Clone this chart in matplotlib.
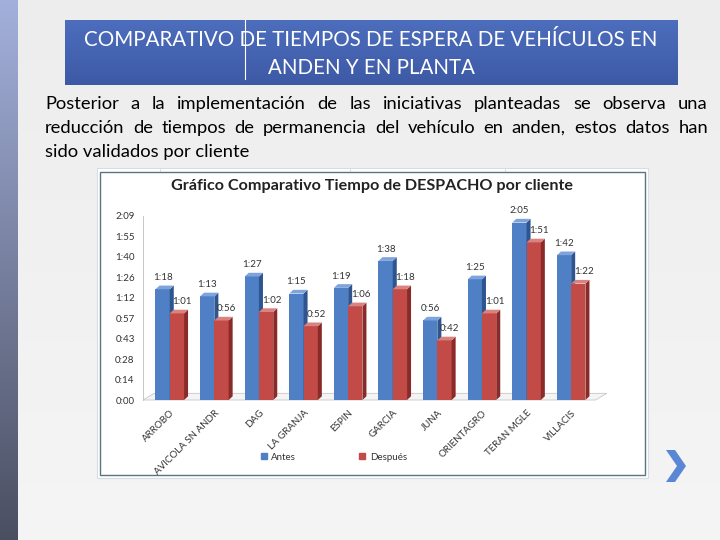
"""Slide: comparativo de tiempos de espera de vehículos (antes / después)."""

import matplotlib.pyplot as plt
import numpy as np
from matplotlib.patches import Polygon, Rectangle
from matplotlib.ticker import FixedLocator, FuncFormatter

plt.rcParams["font.family"] = ["Lato", "DejaVu Sans"]

CLIENTES = ["ARROBO", "AVICOLA SN ANDR", "DAG", "LA GRANJA", "ESPIN",
            "GARCIA", "JUNA", "ORIENTAGRO", "TERAN MGLE", "VILLACIS"]
# tiempos en segundos (mostrados como m:ss)
ANTES = [78, 73, 87, 75, 79, 98, 56, 85, 125, 102]
DESPUES = [61, 56, 62, 52, 66, 78, 42, 61, 111, 82]
Y_TICKS = [0, 14.4, 28.8, 43.2, 57.6, 72, 86.4, 100.8, 115.2, 129.6]

TITULO = "COMPARATIVO DE TIEMPOS DE ESPERA DE VEHÍCULOS EN\nANDEN Y EN PLANTA"
PARRAFO = [
    "Posterior a la implementación de las iniciativas planteadas se observa una",
    "reducción de tiempos de permanencia del vehículo en anden, estos datos han",
    "sido validados por cliente",
]

AZUL, AZUL_OSC, AZUL_TOP = "#4f7fc4", "#2e5590", "#7fa3dc"
ROJO, ROJO_OSC, ROJO_TOP = "#c24a47", "#8a2b29", "#d98381"

W, H = 720, 540
fig = plt.figure(figsize=(7.2, 5.4), dpi=100)

# ---- slide background (pixel coordinates) ----
bg = fig.add_axes([0, 0, 1, 1])
bg.set_xlim(0, W)
bg.set_ylim(H, 0)
bg.axis("off")
grad = np.linspace(0, 1, 256).reshape(-1, 1)
bg.imshow(np.dstack([0.93 + 0.03 * grad] * 3), extent=[0, W, H, 0], aspect="auto", zorder=0)
# left band
band = np.zeros((256, 1, 3))
band[:, 0, 0] = np.linspace(0.64, 0.29, 256)
band[:, 0, 1] = np.linspace(0.69, 0.31, 256)
band[:, 0, 2] = np.linspace(0.86, 0.38, 256)
bg.imshow(band, extent=[0, 18, H, 0], aspect="auto", zorder=1)

# title box
box = np.zeros((64, 1, 3))
box[:, 0, 0] = np.linspace(0.30, 0.24, 64)
box[:, 0, 1] = np.linspace(0.43, 0.35, 64)
box[:, 0, 2] = np.linspace(0.74, 0.65, 64)
bg.imshow(box, extent=[65, 678, 85, 20], aspect="auto", zorder=2)
bg.plot([245, 245], [20, 79], color="white", lw=0.8, zorder=3)
bg.text(371, 54, TITULO, color="white", fontsize=14.8, ha="center", va="center",
        linespacing=1.45, zorder=4)

# justified paragraph
fig.canvas.draw()
renderer = fig.canvas.get_renderer()
left, right = 45, 708
FS_PAR = 13.2
for i, linea in enumerate(PARRAFO):
    y = 104 + i * 24
    palabras = linea.split()
    if i == len(PARRAFO) - 1:
        bg.text(left, y, linea, fontsize=FS_PAR, va="center", ha="left")
        continue
    anchos = []
    for p in palabras:
        t = bg.text(0, 0, p, fontsize=FS_PAR)
        anchos.append(t.get_window_extent(renderer).width)
        t.remove()
    hueco = (right - left - sum(anchos)) / (len(palabras) - 1)
    x = left
    for p, a in zip(palabras, anchos):
        bg.text(x, y, p, fontsize=FS_PAR, va="center", ha="left")
        x += a + hueco

# chart picture frame (pasted Excel chart)
bg.add_patch(Rectangle((97, 168), 551, 310, facecolor="white", edgecolor="#d6dde4", lw=0.8, zorder=2))
for gx in [160, 350, 505]:
    bg.plot([gx, gx], [168, 172], color="#d6dde4", lw=0.6, zorder=3)
bg.add_patch(Rectangle((100, 172), 545, 303, facecolor="white", edgecolor="#5b7580", lw=1.0, zorder=3))
bg.text(372, 186, "Gráfico Comparativo Tiempo de DESPACHO por cliente", fontsize=11.6,
        fontweight="bold", ha="center", va="center", color="#222222", zorder=4)

# chevron
bg.add_patch(Polygon([[666, 450], [675, 450], [686, 466], [675, 482], [666, 482], [677, 466]],
                     closed=True, facecolor="#5b86d4", edgecolor="none", zorder=4))

# ---- chart axes ----
x = np.arange(len(CLIENTES))
bw = 0.32
dx, dy = 0.09, 2.6
x0, x1 = -0.6, 9.85
ax = fig.add_axes([143 / W, 1 - 400 / H, (x1 - x0) * 44.6 / W, 184 / H])
ax.set_xlim(x0, x1)
ax.set_ylim(0, 129.6)
ax.set_zorder(5)
ax.patch.set_alpha(0)
for s in ["top", "right", "bottom"]:
    ax.spines[s].set_visible(False)
ax.spines["left"].set_color("#bfbfbf")
ax.spines["left"].set_linewidth(0.6)

# floor
ax.add_patch(Polygon([[x0, 0], [x1 - 0.3, 0], [x1 - 0.05, dy * 1.8], [x0 + 0.25, dy * 1.8]],
                     closed=True, facecolor="#f4f4f4", edgecolor="#c8c8c8", lw=0.6, zorder=1,
                     clip_on=False))


def barras_3d(xs, vals, cara, lado, tapa):
    ax.bar(xs, vals, width=bw, align="edge", color=cara, zorder=3)
    for xi, v in zip(xs, vals):
        ax.add_patch(Polygon([[xi + bw, 0], [xi + bw + dx, dy], [xi + bw + dx, v + dy], [xi + bw, v]],
                             closed=True, facecolor=lado, edgecolor="none", zorder=3))
        ax.add_patch(Polygon([[xi, v], [xi + bw, v], [xi + bw + dx, v + dy], [xi + dx, v + dy]],
                             closed=True, facecolor=tapa, edgecolor="none", zorder=3))


barras_3d(x - bw, ANTES, AZUL, AZUL_OSC, AZUL_TOP)
barras_3d(x, DESPUES, ROJO, ROJO_OSC, ROJO_TOP)


def mmss(v, _pos=None):
    s = int(v)
    return f"{s // 60}:{s % 60:02d}"


for xi, v in zip(x - bw, ANTES):
    ax.text(xi + bw / 2, v + dy + 2.5, mmss(v), fontsize=7, ha="center", va="bottom",
            color="#333333", zorder=6)
for xi, v in zip(x, DESPUES):
    ax.text(xi + bw / 2 + 0.12, v + dy + 2.5, mmss(v), fontsize=7, ha="center", va="bottom",
            color="#333333", zorder=6)

ax.yaxis.set_major_locator(FixedLocator(Y_TICKS))
ax.yaxis.set_major_formatter(FuncFormatter(mmss))
ax.tick_params(axis="y", length=0, labelsize=7, labelcolor="#333333", pad=6)
ax.set_xticks(x)
ax.set_xticklabels(CLIENTES, rotation=45, ha="right", rotation_mode="anchor",
                   fontsize=7, color="#333333")
ax.tick_params(axis="x", length=0, pad=6)

hs = [Rectangle((0, 0), 1, 1, color=AZUL), Rectangle((0, 0), 1, 1, color=ROJO)]
fig.legend(hs, ["Antes", "Después"], loc="center", bbox_to_anchor=(334 / W, 1 - 457 / H),
           ncol=2, frameon=False, fontsize=7, handlelength=0.6, handleheight=0.6,
           columnspacing=6.5, handletextpad=0.5, labelcolor="#333333")

fig.savefig("out.png", dpi=100)
